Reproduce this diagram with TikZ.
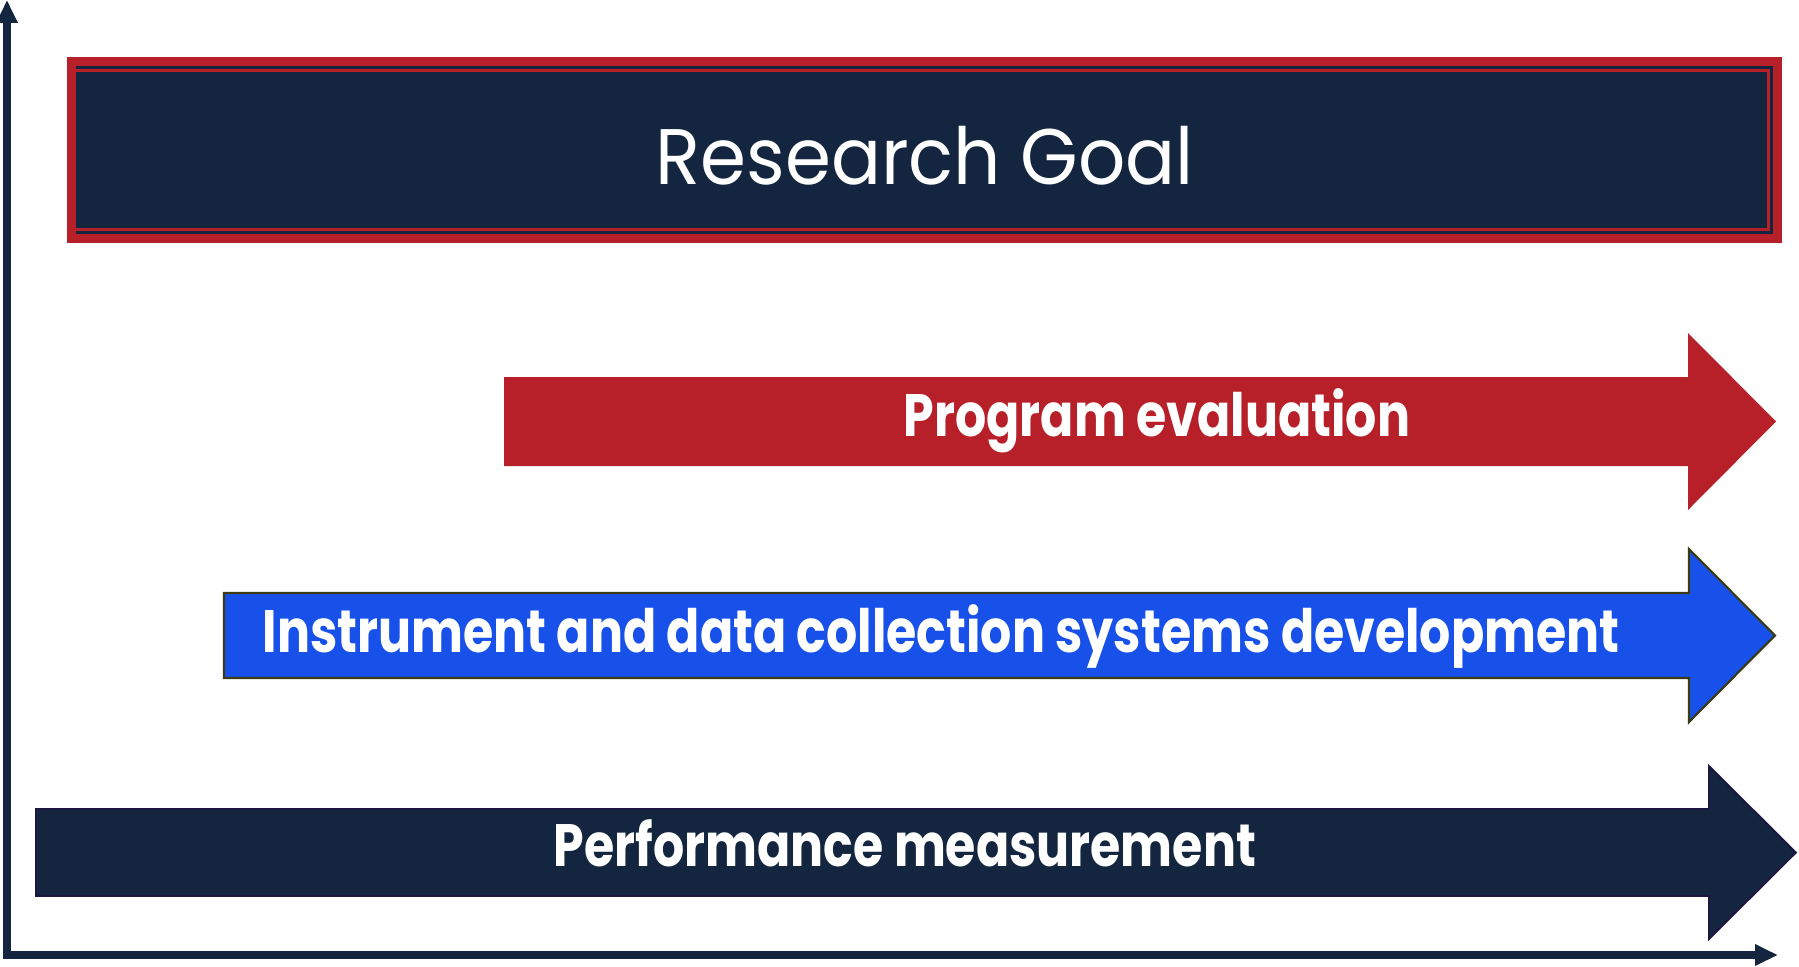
\documentclass[tikz,border=0pt]{standalone}
\usepackage{fontspec}
\setmainfont{Poppins}
\newfontfamily\bannerfont[FakeStretch=0.82]{Poppins}
\newfontfamily\goalfont[FakeStretch=0.94]{Poppins}
\usetikzlibrary{arrows.meta}
\definecolor{goalnavy}{HTML}{13253F}
\definecolor{goalred}{HTML}{B72029}
\definecolor{devblue}{HTML}{1851E9}
\definecolor{devedge}{HTML}{3B3A12}
\definecolor{perfedge}{HTML}{1E1640}
\tikzset{
  axis/.style={line width=2pt,color=goalnavy,line join=miter},
  banner/.style={text=white,font=\bannerfont\bfseries\fontsize{17pt}{20pt}\selectfont,anchor=base},
}
\begin{document}
\begin{tikzpicture}[x=0.01cm,y=-0.01cm]
\useasboundingbox (0,0) rectangle (1799,966);

% axes
\coordinate (ytop) at (7,0);
\coordinate (origin) at (7,955);
\coordinate (xend) at (1778,955);
\draw [axis,{Triangle[width=5.7pt,length=6.5pt]}-{Triangle[width=5.7pt,length=6.5pt]}] (ytop) -- (origin) -- (xend);

% goal box
\fill [goalred] (67,57) rectangle (1782,243);
\fill [goalnavy] (76,66) rectangle (1773,234);
\draw [goalred,line width=0.85pt] (70.5,70.5) rectangle (1768.5,229.5);
\node (goal) at (925,184) [anchor=base,text=white,font=\goalfont\fontsize{22.4pt}{26pt}\selectfont] {Research Goal};

\newcommand\bandarrow[7]{%
\filldraw [#7] (#1,#2) -- (#4,#2) -- (#4,#2-#6) -- (#5,{(#2+#3)/2}) -- (#4,#3+#6) -- (#4,#3) -- (#1,#3) -- cycle;%
}
\bandarrow{504}{377}{466}{1688}{1776}{44}{fill=goalred,draw=none}
\bandarrow{224}{593}{678}{1689}{1775}{44}{fill=devblue,draw=devedge,line width=0.6pt}
\bandarrow{36}{809}{896}{1709}{1796}{43}{fill=goalnavy,draw=perfedge,line width=0.5pt}
\node (evaluation) at (1157,436) [banner] {Program evaluation};
\node (instrument) at (941,652) [banner] {Instrument and data collection systems development};
\node (performance) at (905,866) [banner] {Performance measurement};
\end{tikzpicture}
\end{document}
